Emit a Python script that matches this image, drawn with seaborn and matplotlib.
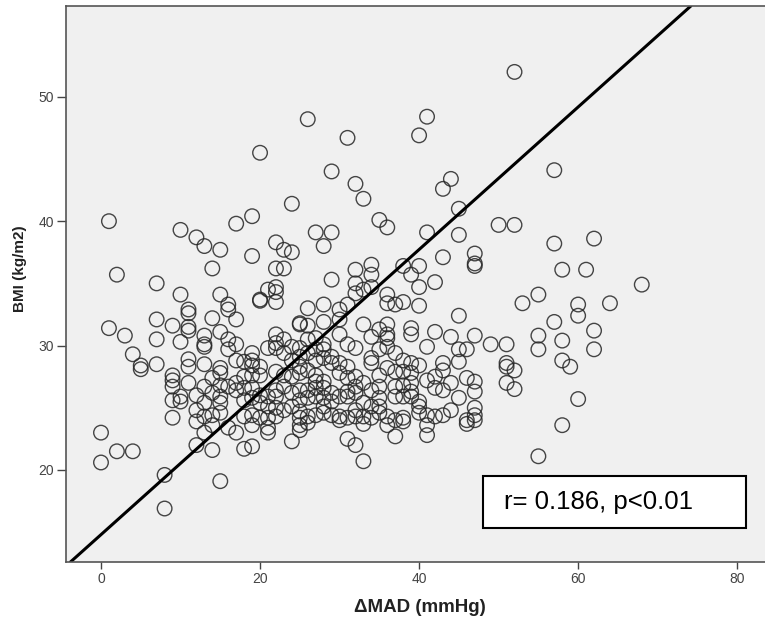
import numpy as np
import pandas as pd
import matplotlib.pyplot as plt
import matplotlib.patches as mpatches
import seaborn as sns

# delta MAD (mmHg) and BMI (kg/m2), region by region
mad_top = [1, 26, 31, 20, 29, 32, 33, 24, 19, 17, 10, 12, 13, 15, 27, 29, 28, 22, 23, 24,
           19, 35, 36, 22, 23, 32, 34, 38,
           52, 41, 40, 57, 44, 43, 45, 41, 45, 50, 52, 57, 62, 43, 47, 47, 47, 40]
bmi_top = [40.0, 48.2, 46.7, 45.5, 44.0, 43.0, 41.8, 41.4, 40.4, 39.8, 39.3, 38.7, 38.0, 37.7, 39.1, 39.1, 38.0, 38.3, 37.7, 37.5,
           37.2, 40.1, 39.5, 36.2, 36.2, 36.1, 36.5, 36.4,
           52.0, 48.4, 46.9, 44.1, 43.4, 42.6, 41.0, 39.1, 38.9, 39.7, 39.7, 38.2, 38.6, 37.1, 37.4, 36.6, 36.4, 36.4]

mad_right = [61, 68, 64, 62, 62,
             40, 40, 42, 45, 58, 55, 53, 60, 60, 57, 58, 58, 59, 60, 55, 55, 42, 44, 47, 41, 45, 46, 49, 51,
             40, 43, 43, 45, 51, 51, 52, 51, 52, 46, 47, 47, 44, 42, 41, 43, 42, 45, 47, 47, 44, 43, 42, 41,
             46, 40, 40, 40]
bmi_right = [36.1, 34.9, 33.4, 31.2, 29.7,
             34.7, 33.2, 35.1, 32.4, 36.1, 34.1, 33.4, 33.3, 32.4, 31.9, 30.4, 28.8, 28.3, 25.7, 30.8, 29.7, 31.1, 30.7, 30.8, 29.9, 29.7, 29.7, 30.1, 30.1,
             28.4, 28.6, 28.0, 28.7, 28.6, 28.3, 28.0, 27.0, 26.5, 27.4, 27.1, 26.3, 27.0, 27.5, 27.2, 26.4, 26.6, 25.8, 25.0, 24.4, 24.8, 24.4, 24.3, 24.4,
             24.0, 25.5, 25.1, 24.6]

mad_low = [0, 0, 2, 4, 8, 8, 12, 14, 15, 12, 13, 14, 16, 17, 18, 19, 19, 21, 21, 24, 25, 25, 26,
           31, 32, 33, 33, 30, 36, 37, 38, 58, 55, 41, 41, 46, 47]
bmi_low = [23.0, 20.6, 21.5, 21.5, 19.6, 16.9, 22.0, 21.6, 19.1, 23.9, 23.0, 23.6, 23.4, 23.0, 21.7, 23.6, 21.9, 23.4, 23.0, 22.3, 23.6, 23.2, 23.8,
           22.5, 22.0, 20.7, 23.7, 24.0, 23.6, 22.7, 23.9, 23.6, 21.1, 23.6, 22.8, 23.7, 24.0]

mad_left = [2, 7, 14, 10, 15, 11, 11, 16, 16, 17, 7, 9, 14, 1, 3, 11, 11, 15, 7, 10, 13, 13, 13, 16, 16, 17,
            4, 5, 5, 7, 11, 11, 13, 15, 15, 17, 9, 9, 9, 11, 13, 14, 15, 16, 17, 9, 10, 10, 12, 13, 14, 15, 15, 17,
            9, 12, 13, 14, 15]
bmi_left = [35.7, 35.0, 36.2, 34.1, 34.1, 32.9, 32.6, 33.3, 32.9, 32.1, 32.1, 31.6, 32.2, 31.4, 30.8, 31.5, 31.2, 31.1, 30.5, 30.3, 30.8, 30.1, 29.9, 30.5, 29.7, 30.1,
            29.3, 28.4, 28.1, 28.5, 28.9, 28.3, 28.5, 28.2, 27.8, 28.8, 27.6, 27.2, 26.7, 27.0, 26.7, 27.4, 26.8, 26.7, 27.0, 25.6, 25.9, 25.5, 26.0, 25.4, 26.2, 25.9, 25.4, 26.4,
            24.2, 24.8, 24.3, 24.4, 24.6]

mad_mid = [34, 29, 39, 21, 22, 22, 20, 20, 22, 26, 28, 30, 31, 32, 32, 33, 34, 36, 36, 37, 38,
           25, 25, 26, 28, 30, 33, 34, 35, 36, 36, 36, 39, 39, 36, 37, 38, 39, 34, 34, 32, 31, 30,
           22, 23, 22, 19, 24, 25, 26, 27, 28, 28, 29, 27, 26, 25, 24, 23, 18, 19, 20, 19, 18,
           22, 23, 24, 25, 25, 26, 27, 28, 27, 30, 31, 31, 32, 32, 33, 34, 35, 37, 38, 37, 38,
           39, 39, 39, 35, 34, 35, 32, 31, 31, 33, 32, 30, 29, 28, 29, 28, 28, 27, 26, 25, 27, 26, 25,
           24, 23, 22, 22, 21, 20, 19, 18, 19, 18, 20, 21, 22, 23, 24, 25, 25, 26, 27, 28, 29, 30,
           31, 32, 33, 34, 35, 36, 37, 38, 19, 18, 20, 22, 21, 22, 21, 19, 20, 27, 28, 29, 30, 35,
           36, 37, 35, 38, 39]
bmi_mid = [35.7, 35.3, 35.7, 34.5, 34.7, 34.3, 33.7, 33.6, 33.5, 33.0, 33.3, 32.9, 33.3, 35.0, 34.2, 34.5, 34.7, 34.1, 33.4, 33.3, 33.5,
           31.7, 31.8, 31.6, 31.9, 32.1, 31.7, 30.7, 31.3, 31.7, 30.9, 30.6, 31.4, 30.9, 29.9, 29.4, 28.8, 28.6, 29.0, 28.6, 29.8, 30.1, 30.9,
           30.9, 30.5, 29.8, 29.4, 29.9, 29.8, 30.5, 30.6, 30.1, 29.7, 29.1, 29.7, 29.4, 29.1, 28.8, 29.4, 28.7, 28.4, 27.6, 27.6, 27.5,
           27.9, 27.6, 27.5, 28.3, 27.8, 28.0, 27.6, 27.1, 27.1, 27.8, 28.3, 27.4, 27.5, 26.7, 27.0, 26.4, 26.7, 26.7, 26.8, 25.9, 25.9,
           27.0, 26.3, 25.9, 25.8, 25.1, 25.1, 26.2, 25.9, 26.3, 25.4, 24.8, 25.9, 26.2, 26.6, 25.5, 25.8, 25.1, 26.6, 26.4, 26.4, 25.9, 25.8, 25.6,
           26.2, 26.7, 26.4, 25.9, 25.9, 26.0, 26.6, 26.6, 25.8, 25.6, 25.4, 25.1, 25.0, 24.8, 25.1, 24.7, 24.2, 24.3, 24.4, 24.6, 24.4, 24.3,
           24.2, 24.3, 24.3, 24.2, 24.6, 24.3, 24.0, 24.2, 24.4, 24.3, 24.2, 24.3, 24.2, 30.2, 29.8, 28.8, 28.3, 28.8, 29.0, 28.6, 28.6, 29.7,
           28.2, 27.9, 27.6, 27.9, 27.8]

# fit line as drawn on the chart
fit_intercept = 14.8
fit_slope = 0.573
stat_text = "r= 0.186, p<0.01"

df = pd.DataFrame({
    "MAD": mad_top + mad_right + mad_low + mad_left + mad_mid,
    "BMI": bmi_top + bmi_right + bmi_low + bmi_left + bmi_mid,
})

sns.set_style("white")
plt.rcParams['font.family'] = ['Liberation Sans', 'DejaVu Sans']

fig = plt.figure(figsize=(7.65, 6.2), dpi=100)
ax = fig.add_axes([66 / 765, 58 / 620, 703 / 765, 556 / 620])
ax.set_facecolor("#f0f0f0")

sns.scatterplot(data=df, x="MAD", y="BMI", ax=ax, marker="o", s=110,
                facecolors="none", edgecolor="#262626", linewidth=1.0, alpha=0.85)

ax.axline((0, fit_intercept), slope=fit_slope, color="black", linewidth=2.2)

ax.set_xlim(-4.4, 84.0)
ax.set_ylim(12.6, 57.3)
ax.set_xticks([0, 20, 40, 60, 80])
ax.set_yticks([20, 30, 40, 50])
ax.tick_params(axis="both", bottom=True, left=True, direction="out", width=1,
               color="#444444", labelsize=10, labelcolor="#444444")
ax.tick_params(axis="x", length=4.8, pad=2.5)
ax.tick_params(axis="y", length=6.5, pad=2)

for side, sp in ax.spines.items():
    sp.set_color("#555555")
    sp.set_linewidth(1.2)

ax.set_xlabel("ΔMAD (mmHg)", fontsize=13.5, fontweight="bold", color="#222222")
ax.set_ylabel("BMI (kg/m2)", fontsize=11, fontweight="bold", color="#222222")
ax.xaxis.set_label_coords(0.503, -0.066)
ax.yaxis.set_label_coords(-0.055, 0.527)

box = mpatches.Rectangle((0.5932, 0.0617), 0.3737, 0.0935, transform=ax.transAxes,
                         facecolor="white", edgecolor="black", linewidth=1.5, zorder=5)
ax.add_patch(box)
ax.text(0.623, 0.1085, stat_text, transform=ax.transAxes, fontsize=18.5,
        va="center", ha="left", color="black", zorder=6)

fig.savefig("out.png", dpi=100)
